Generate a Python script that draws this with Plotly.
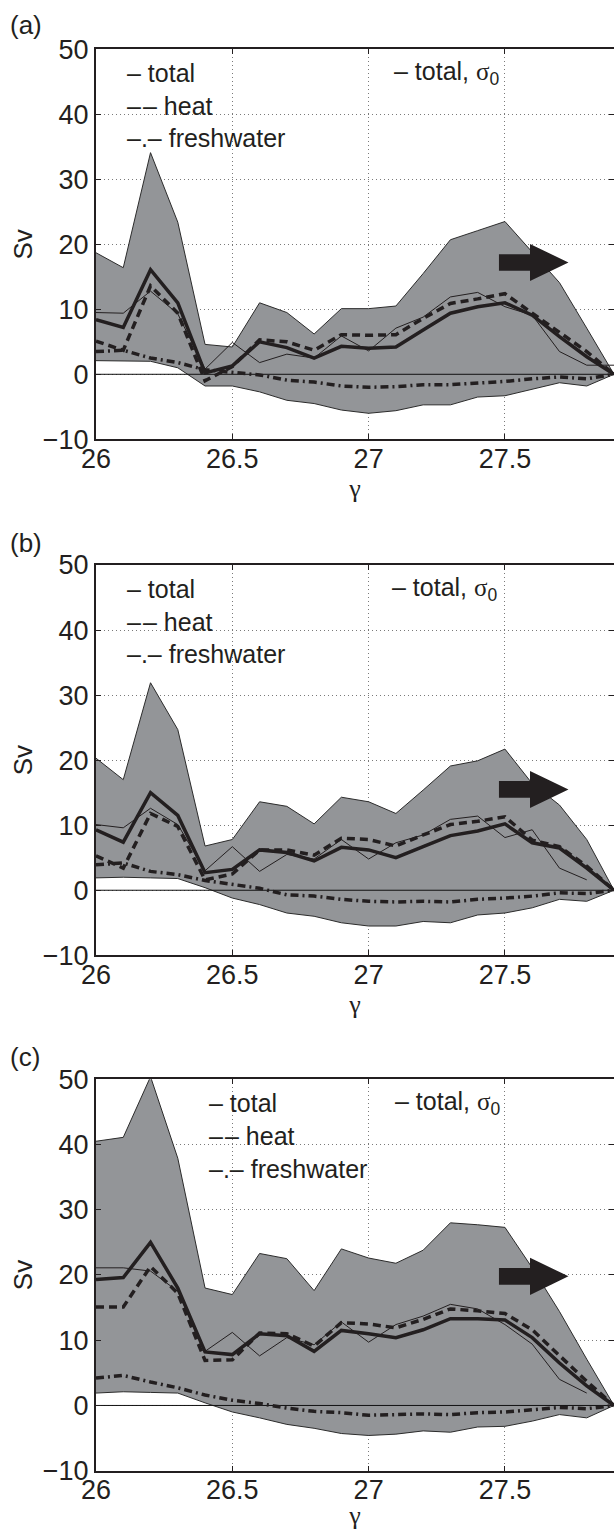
import plotly.graph_objects as go

# ---------------- data ----------------
GAMMA = [26.0, 26.1, 26.2, 26.3, 26.4, 26.5, 26.6, 26.7, 26.8, 26.9,
         27.0, 27.1, 27.2, 27.3, 27.4, 27.5, 27.6, 27.7, 27.8, 27.9]

X_TICKS = [26, 26.5, 27, 27.5]
X_TICK_TEXT = ["26", "26.5", "27", "27.5"]
Y_TICKS = [-10, 0, 10, 20, 30, 40, 50]
Y_TICK_TEXT = ["\u221210", "0", "10", "20", "30", "40", "50"]

PANEL_LABELS = ["(a)", "(b)", "(c)"]
LEGEND_LINES = ["\u2013 total", "\u2013\u200a\u2013 heat", "\u2013.\u2013 freshwater"]
SIGMA_LABEL = "\u2013 total, <span style='font-family:Liberation Serif'>\u03c3</span><sub>0</sub>"

# panel (a)
A_UPPER = [18.7, 16.4, 34.1, 23.4, 4.6, 4.2, 11.0, 9.5, 6.2, 10.1,
           10.1, 10.5, 15.5, 20.7, 22.1, 23.5, 18.8, 14.1, 7.1, 0.0]
A_LOWER = [2.1, 2.1, 2.0, 1.0, -1.8, -1.8, -2.7, -4.0, -4.5, -5.5,
           -6.0, -5.6, -4.7, -4.7, -3.5, -3.3, -2.3, -1.3, -1.8, 0.0]
A_TOTAL = [8.4, 7.2, 16.1, 11.0, 0.2, 1.3, 5.0, 4.1, 2.5, 4.3,
           4.0, 4.2, 6.8, 9.4, 10.4, 11.0, 9.1, 5.8, 2.7, 0.0]
A_HEAT = [5.1, 3.7, 13.6, 9.4, -1.0, 1.2, 5.3, 5.0, 3.7, 6.1,
          6.0, 6.1, 8.6, 10.9, 11.6, 12.4, 9.4, 6.5, 3.5, 0.0]
A_FRESH = [3.5, 3.7, 2.5, 1.8, 0.7, 0.3, -0.1, -0.9, -1.2, -1.8,
           -2.0, -1.9, -1.6, -1.6, -1.4, -1.1, -0.7, -0.4, -0.7, 0.0]
A_SIGMA0 = [9.5, 9.4, 12.8, 9.3, 0.8, 4.9, 1.8, 3.1, 2.5, 5.9,
            3.6, 7.1, 8.8, 11.9, 12.6, 10.4, 9.1, 3.5, 1.4, 1.4]

# panel (b)
B_UPPER = [20.3, 17.0, 31.9, 24.7, 6.8, 7.8, 13.6, 12.9, 10.2, 14.3,
           13.6, 11.8, 15.4, 19.1, 19.9, 21.7, 16.4, 13.1, 7.8, 0.0]
B_LOWER = [1.9, 2.0, 1.9, 1.8, 0.4, -1.2, -2.2, -3.5, -4.0, -5.0,
           -5.5, -5.5, -4.8, -5.0, -3.8, -3.5, -2.7, -1.4, -1.7, 0.0]
B_TOTAL = [9.3, 7.4, 15.0, 11.5, 2.7, 3.2, 6.2, 5.8, 4.5, 6.6,
           6.2, 5.0, 6.7, 8.4, 9.1, 10.2, 7.3, 6.5, 3.4, 0.0]
B_HEAT = [5.3, 3.4, 11.8, 9.8, 1.6, 2.5, 6.2, 6.2, 5.4, 8.0,
          7.8, 6.8, 8.5, 10.1, 10.6, 11.3, 7.7, 6.7, 3.7, 0.0]
B_FRESH = [3.9, 4.2, 2.9, 2.4, 1.5, 0.9, 0.3, -0.7, -0.9, -1.4,
           -1.7, -1.8, -1.7, -1.8, -1.4, -1.2, -0.9, -0.4, -0.5, 0.0]
B_SIGMA0 = [10.1, 9.6, 12.6, 10.1, 3.0, 6.7, 2.9, 5.5, 4.8, 7.8,
            4.8, 7.3, 8.5, 10.9, 11.4, 8.1, 9.3, 3.4, 1.6, None]

# panel (c)
C_UPPER = [40.5, 41.1, 50.4, 37.9, 18.0, 17.0, 23.3, 22.5, 17.6, 24.0,
           22.6, 21.8, 23.8, 28.0, 27.7, 27.3, 21.1, 14.4, 7.1, 0.0]
C_LOWER = [1.9, 2.1, 2.0, 1.9, 0.4, -1.0, -1.9, -2.9, -3.5, -4.3,
           -4.6, -4.4, -3.9, -4.1, -3.3, -3.2, -2.4, -1.4, -1.9, 0.0]
C_TOTAL = [19.3, 19.6, 25.0, 18.0, 8.2, 7.8, 11.0, 10.7, 8.3, 11.5,
           11.0, 10.4, 11.6, 13.3, 13.3, 13.1, 10.4, 6.5, 3.0, 0.0]
C_HEAT = [15.1, 15.1, 21.3, 17.2, 6.9, 7.0, 11.1, 11.0, 9.1, 12.7,
          12.5, 11.9, 13.2, 14.8, 14.5, 14.1, 11.6, 7.6, 3.7, 0.0]
C_FRESH = [4.2, 4.6, 3.6, 2.7, 1.6, 0.8, 0.3, -0.4, -0.9, -1.1,
           -1.5, -1.4, -1.3, -1.4, -1.1, -1.0, -0.6, -0.3, -0.5, 0.0]
C_SIGMA0 = [21.1, 21.1, 20.6, 17.5, 8.3, 11.2, 7.6, 10.4, 9.3, 12.8,
            9.7, 12.4, 13.7, 15.5, 14.8, 12.4, 9.4, 4.0, 1.9, None]

# legend text anchor (gamma) per panel, arrow tip height (Sv) per panel
LEGEND_X = [26.105, 26.105, 26.406]
SIGMA_X = [27.084, 27.080, 27.088]
LEGEND_Y = [46.3, 41.3, 36.3]
ARROW_Y = [17.2, 15.5, 19.8]

# ---------------- style ----------------
INK = "#231f20"
SHADE = "#939598"
EDGE = "#2b2b2b"
GRID = "#7a7a7a"
FONT = "Liberation Sans"
SERIF = "Liberation Serif"

Y_DOMAINS = [[0.71288, 0.96778], [0.37562, 0.63072], [0.03876, 0.29458]]
X_DOMAIN = [96 / 614, 1.0]
LABEL_Y_PX = [25, 543, 1057]
H = 1530

panels = [
    (A_UPPER, A_LOWER, A_TOTAL, A_HEAT, A_FRESH, A_SIGMA0),
    (B_UPPER, B_LOWER, B_TOTAL, B_HEAT, B_FRESH, B_SIGMA0),
    (C_UPPER, C_LOWER, C_TOTAL, C_HEAT, C_FRESH, C_SIGMA0),
]

fig = go.Figure()
shapes = []
annotations = []


def arrow_path(y, x_tail=27.478, x_base=27.592, x_tip=27.733, body=1.28, head=2.85):
    return (f"M {x_tail},{y - body} L {x_base},{y - body} L {x_base},{y - head} "
            f"L {x_tip},{y} L {x_base},{y + head} L {x_base},{y + body} "
            f"L {x_tail},{y + body} Z")


for k, (up, lo, tot, heat, fresh, sig) in enumerate(panels):
    sfx = "" if k == 0 else str(k + 1)
    xa, ya = "x" + sfx, "y" + sfx
    common = dict(xaxis=xa, yaxis=ya, showlegend=False, hoverinfo="skip")

    fig.add_trace(go.Scatter(x=GAMMA, y=lo, mode="lines",
                             line=dict(color=EDGE, width=1), **common))
    fig.add_trace(go.Scatter(x=GAMMA, y=up, mode="lines", fill="tonexty",
                             fillcolor=SHADE, line=dict(color=EDGE, width=1), **common))
    fig.add_trace(go.Scatter(x=[GAMMA[0], GAMMA[-1]], y=[0, 0], mode="lines",
                             line=dict(color="#111111", width=1), **common))
    fig.add_trace(go.Scatter(x=GAMMA, y=sig, mode="lines",
                             line=dict(color=INK, width=1), **common))
    fig.add_trace(go.Scatter(x=GAMMA, y=fresh, mode="lines",
                             line=dict(color=INK, width=3.5, dash="8px,4px,2px,4px"), **common))
    fig.add_trace(go.Scatter(x=GAMMA, y=heat, mode="lines",
                             line=dict(color=INK, width=3.5, dash="8px,5px"), **common))
    fig.add_trace(go.Scatter(x=GAMMA, y=tot, mode="lines",
                             line=dict(color=INK, width=3.5), **common))

    axis_common = dict(showline=True, linewidth=2, linecolor=INK, mirror="ticks",
                       ticks="inside", ticklen=5, tickwidth=1, tickcolor=INK,
                       showgrid=True, gridcolor=GRID, griddash="1px,3px", gridwidth=1,
                       zeroline=False, automargin=False,
                       tickfont=dict(family=FONT, size=27, color=INK))
    fig.layout["xaxis" + sfx] = dict(
        domain=X_DOMAIN, anchor=ya, range=[26, 27.9],
        tickmode="array", tickvals=X_TICKS, ticktext=X_TICK_TEXT,
        ticklabelstandoff=-6,
        title=dict(text="\u03b3", font=dict(family=SERIF, size=26, color=INK), standoff=5),
        **axis_common)
    fig.layout["yaxis" + sfx] = dict(
        domain=Y_DOMAINS[k], anchor=xa, range=[-10, 50],
        tickmode="array", tickvals=Y_TICKS, ticktext=Y_TICK_TEXT,
        title=dict(text="Sv", font=dict(family=FONT, size=26, color=INK), standoff=3),
        **axis_common)

    shapes.append(dict(type="path", path=arrow_path(ARROW_Y[k]), xref=xa, yref=ya,
                       fillcolor=INK, line=dict(width=0), layer="above"))

    for line_txt, ly in zip(LEGEND_LINES, LEGEND_Y):
        annotations.append(dict(x=LEGEND_X[k], y=ly, xref=xa, yref=ya, text=line_txt,
                                showarrow=False, xanchor="left", yanchor="middle",
                                font=dict(family=FONT, size=25, color=INK)))
    annotations.append(dict(x=SIGMA_X[k], y=LEGEND_Y[0], xref=xa, yref=ya, text=SIGMA_LABEL,
                            showarrow=False, xanchor="left", yanchor="middle",
                            font=dict(family=FONT, size=25, color=INK)))
    annotations.append(dict(x=8 / 614, y=1 - LABEL_Y_PX[k] / H, xref="paper", yref="paper",
                            text=PANEL_LABELS[k], showarrow=False, xanchor="left",
                            yanchor="middle", font=dict(family=FONT, size=26, color=INK)))

fig.update_layout(width=614, height=1530,
                  margin=dict(l=0, r=0, t=0, b=0, pad=0, autoexpand=False),
                  paper_bgcolor="white", plot_bgcolor="white",
                  shapes=shapes, annotations=annotations, showlegend=False)

fig.write_html("out.html",
               config={"displayModeBar": False},
               post_script="document.body.style.margin='0';"
                           "document.body.style.overflow='hidden';")
